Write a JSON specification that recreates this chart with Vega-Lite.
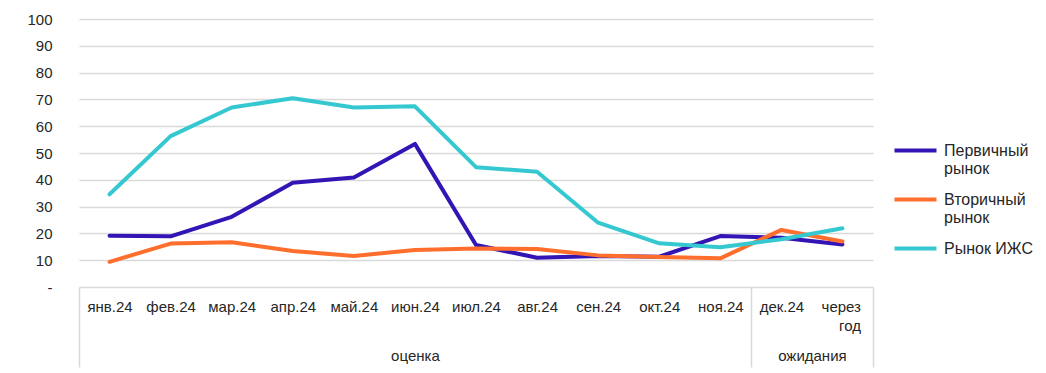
{
  "$schema": "https://vega.github.io/schema/vega-lite/v6.json",
  "autosize": {"type": "none"},
  "padding": {"left": 79, "top": 19, "right": 173, "bottom": 86},
  "width": 794,
  "height": 268,
  "background": "white",
  "config": {
    "font": "Liberation Sans",
    "view": {"stroke": null},
    "axis": {"labelFont": "Liberation Sans", "labelColor": "#262626", "labelFontSize": 15, "title": null}
  },
  "datasets": {
    "main": [
      {"month": "янв.24", "series": "Первичный рынок", "value": 19.1},
      {"month": "фев.24", "series": "Первичный рынок", "value": 18.9},
      {"month": "мар.24", "series": "Первичный рынок", "value": 26.2},
      {"month": "апр.24", "series": "Первичный рынок", "value": 38.9},
      {"month": "май.24", "series": "Первичный рынок", "value": 40.9},
      {"month": "июн.24", "series": "Первичный рынок", "value": 53.4},
      {"month": "июл.24", "series": "Первичный рынок", "value": 15.7},
      {"month": "авг.24", "series": "Первичный рынок", "value": 10.9},
      {"month": "сен.24", "series": "Первичный рынок", "value": 11.6},
      {"month": "окт.24", "series": "Первичный рынок", "value": 11.3},
      {"month": "ноя.24", "series": "Первичный рынок", "value": 19.0},
      {"month": "дек.24", "series": "Первичный рынок", "value": 18.4},
      {"month": "через год", "series": "Первичный рынок", "value": 15.9},
      {"month": "янв.24", "series": "Вторичный рынок", "value": 9.4},
      {"month": "фев.24", "series": "Вторичный рынок", "value": 16.2},
      {"month": "мар.24", "series": "Вторичный рынок", "value": 16.7},
      {"month": "апр.24", "series": "Вторичный рынок", "value": 13.4},
      {"month": "май.24", "series": "Вторичный рынок", "value": 11.6},
      {"month": "июн.24", "series": "Вторичный рынок", "value": 13.8},
      {"month": "июл.24", "series": "Вторичный рынок", "value": 14.4},
      {"month": "авг.24", "series": "Вторичный рынок", "value": 14.2},
      {"month": "сен.24", "series": "Вторичный рынок", "value": 11.8},
      {"month": "окт.24", "series": "Вторичный рынок", "value": 11.2},
      {"month": "ноя.24", "series": "Вторичный рынок", "value": 10.7},
      {"month": "дек.24", "series": "Вторичный рынок", "value": 21.3},
      {"month": "через год", "series": "Вторичный рынок", "value": 17.0},
      {"month": "янв.24", "series": "Рынок ИЖС", "value": 34.6},
      {"month": "фев.24", "series": "Рынок ИЖС", "value": 56.3},
      {"month": "мар.24", "series": "Рынок ИЖС", "value": 67.0},
      {"month": "апр.24", "series": "Рынок ИЖС", "value": 70.4},
      {"month": "май.24", "series": "Рынок ИЖС", "value": 67.0},
      {"month": "июн.24", "series": "Рынок ИЖС", "value": 67.4},
      {"month": "июл.24", "series": "Рынок ИЖС", "value": 44.7},
      {"month": "авг.24", "series": "Рынок ИЖС", "value": 43.0},
      {"month": "сен.24", "series": "Рынок ИЖС", "value": 24.0},
      {"month": "окт.24", "series": "Рынок ИЖС", "value": 16.3},
      {"month": "ноя.24", "series": "Рынок ИЖС", "value": 14.8},
      {"month": "дек.24", "series": "Рынок ИЖС", "value": 17.8},
      {"month": "через год", "series": "Рынок ИЖС", "value": 21.9}
    ],
    "groups": [
      {"group": "оценка", "start": 0, "end": 11},
      {"group": "ожидания", "start": 11, "end": 13}
    ]
  },
  "layer": [
    {
      "data": {"name": "groups"},
      "mark": {"type": "rect", "opacity": 0},
      "encoding": {
        "x": {
          "field": "start", "type": "quantitative",
          "scale": {"domain": [0, 13], "nice": false, "zero": false},
          "axis": {
            "orient": "bottom",
            "values": [0, 5.5, 11, 12, 13],
            "labelExpr": "datum.value == 5.5 ? 'оценка' : datum.value == 12 ? 'ожидания' : ''",
            "grid": false,
            "domain": false,
            "ticks": true,
            "tickSize": 80,
            "tickWidth": 1.5,
            "tickColor": "#D9D9D9",
            "tickOpacity": {"condition": {"test": "datum.value == 5.5 || datum.value == 12", "value": 0}, "value": 1},
            "labelPadding": -19,
            "labelFontSize": 15,
            "labelBaseline": "top",
            "labelAlign": "center",
            "labelFlush": false,
            "labelOverlap": false
          }
        },
        "x2": {"field": "end"}
      }
    },
    {
      "data": {"name": "main"},
      "mark": {"type": "line", "strokeWidth": 4, "strokeCap": "round", "strokeJoin": "round"},
      "encoding": {
        "x": {
          "field": "month", "type": "ordinal", "sort": null,
          "scale": {"type": "point", "padding": 0.5},
          "axis": {
            "orient": "bottom",
            "labelAngle": 0,
            "grid": false,
            "domain": false,
            "ticks": false,
            "labelPadding": 12,
            "labelBaseline": "top",
            "labelLineHeight": 19,
            "labelExpr": "datum.value == 'через год' ? ['через', 'год'] : datum.label",
            "labelAlign": {"condition": {"test": "datum.value == 'через год'", "value": "right"}, "value": "center"},
            "labelOffset": {"condition": {"test": "datum.value == 'через год'", "value": 18}, "value": 0},
            "labelOverlap": false
          }
        },
        "y": {
          "field": "value", "type": "quantitative",
          "scale": {"domain": [0, 100], "nice": false},
          "axis": {
            "values": [0, 10, 20, 30, 40, 50, 60, 70, 80, 90, 100],
            "labelExpr": "datum.value == 0 ? '-\u00a0\u00a0\u00a0' : datum.label",
            "grid": true,
            "gridColor": "#D9D9D9",
            "gridWidth": 1.5,
            "domain": false,
            "ticks": false,
            "labelPadding": 27
          }
        },
        "color": {
          "field": "series", "type": "nominal",
          "scale": {
            "domain": ["Первичный рынок", "Вторичный рынок", "Рынок ИЖС"],
            "range": ["#3314B4", "#FF6E2D", "#35C8D0"]
          },
          "legend": {
            "orient": "none",
            "legendX": 824,
            "legendY": 119,
            "title": null,
            "symbolType": "M-2,0H2",
            "symbolStrokeWidth": 4,
            "symbolSize": 441,
            "labelFont": "Liberation Sans",
            "labelFontSize": 16,
            "labelColor": "#262626",
            "labelOffset": 16,
            "labelLimit": 300,
            "labelBaseline": "middle",
            "labelLineHeight": 16,
            "labelExpr": "datum.label == 'Рынок ИЖС' ? datum.label : split(datum.label, ' ')",
            "rowPadding": 10
          }
        }
      }
    }
  ],
  "resolve": {"scale": {"x": "independent"}, "axis": {"x": "independent"}}
}
